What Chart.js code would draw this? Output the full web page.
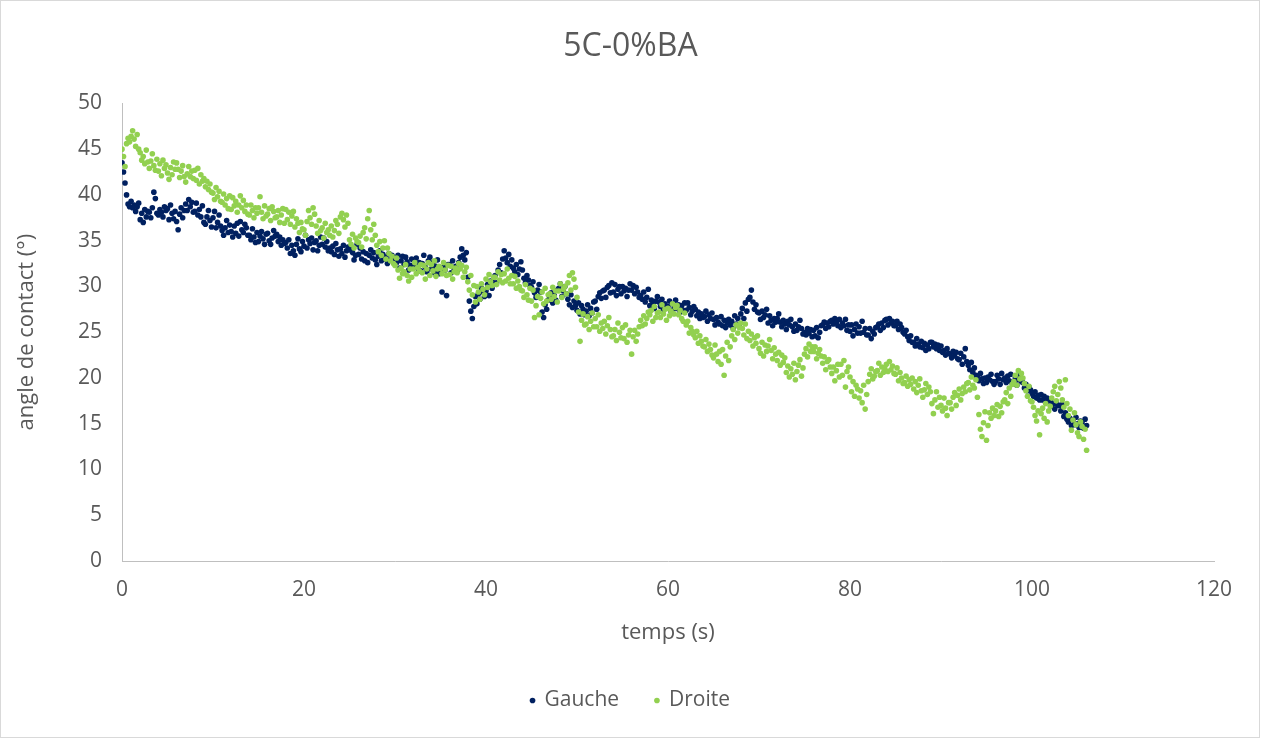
<!DOCTYPE html>
<html>
<head>
<meta charset="utf-8">
<script src="https://cdn.jsdelivr.net/npm/chart.js@4/dist/chart.umd.min.js"></script>
<style>
  html, body { margin: 0; padding: 0; background: #ffffff; }
  #wrap { width: 1261px; height: 738px; }
</style>
</head>
<body>
<div id="wrap"><canvas id="angleChart" width="1261" height="738"></canvas></div>
<script>
// time between two measurements (s): 6 frames per second
const sampleStep = 1 / 6;

const seriesNames = ['Gauche', 'Droite'];

// contact angle, left side (deg), one row = 2 seconds
const gauche = [
  43.5, 42.5, 41.3, 40.0, 39.0, 38.7,  39.3, 38.6, 38.9, 38.2, 38.7, 39.1,
  37.3, 38.0, 37.0, 38.4, 37.6, 38.2,  38.1, 37.5, 38.6, 40.3, 39.6, 38.0,
  37.8, 38.4, 38.1, 37.6, 38.7, 38.3,  38.5, 37.3, 38.9, 38.0, 37.4, 38.2,
  37.1, 36.2, 37.9, 38.6, 37.5, 38.3,  39.0, 38.3, 39.5, 38.7, 39.2, 38.1,
  38.2, 39.1, 37.8, 38.4, 37.6, 38.8,  37.0, 36.8, 37.6, 38.3, 37.2, 36.5,
  37.5, 38.2, 36.4, 37.0, 37.8, 36.6,  36.1, 35.6, 36.4, 37.2, 35.9, 36.7,
  36.0, 35.4, 36.6, 35.8, 36.9, 35.5,  37.1, 36.2, 35.9, 36.8, 36.4, 35.6,
  35.6, 35.1, 36.3, 35.4, 34.8, 35.9,  34.9, 35.5, 36.0, 35.2, 34.6, 35.7,
  35.8, 35.0, 34.6, 35.3, 36.1, 35.5,  35.7, 34.9, 35.4, 34.5, 35.1, 34.7,
  34.8, 34.2, 35.1, 33.6, 34.5, 33.9,  33.4, 34.6, 35.2, 34.1, 33.8, 34.9,
  34.4, 35.6, 34.2, 35.1, 34.7, 35.3,  34.0, 34.8, 35.0, 33.9, 34.5, 35.4,
  34.6, 35.3, 34.3, 34.9, 33.9, 34.2,  33.8, 34.4, 33.5, 34.7, 34.0, 33.3,
  34.1, 33.6, 34.5, 33.2, 33.9, 34.3,  34.0, 34.3, 33.7, 32.9, 33.4, 34.6,
  33.5, 34.2, 33.0, 33.8, 32.8, 33.6,  32.6, 33.4, 34.0, 33.1, 33.7, 32.9,
  32.4, 33.3, 33.9, 32.8, 33.5, 33.0,  33.2, 32.5, 33.6, 32.9, 33.4, 32.7,
  33.1, 32.6, 33.4, 32.0, 32.8, 33.3,  32.4, 33.2, 32.7, 31.8, 32.3, 33.0,
  32.9, 32.3, 33.1, 32.0, 32.6, 31.7,  32.5, 33.4, 32.1, 31.6, 32.8, 33.2,
  31.9, 32.6, 31.5, 32.2, 32.9, 31.4,  31.6, 29.4, 32.1, 31.8, 29.0, 32.4,
  32.4, 31.5, 32.8, 31.9, 32.2, 31.7,  32.6, 33.2, 34.1, 33.4, 32.9, 33.7,
  31.0, 28.4, 27.3, 26.5, 27.8, 28.9,  28.1, 29.2, 28.6, 29.8, 29.4, 28.9,
  29.5, 30.2, 29.0, 30.6, 29.8, 30.4,  31.2, 30.4, 31.8, 32.4, 31.5, 33.0,
  33.9, 33.1, 32.6, 33.5, 32.2, 32.9,  32.0, 31.6, 32.4, 31.3, 31.9, 32.7,
  31.8, 30.9, 30.4, 31.2, 30.7, 30.1,  29.9, 30.5, 29.3, 28.8, 29.6, 30.2,
  29.4, 27.2, 26.6, 28.0, 27.5, 28.5,  28.7, 29.3, 28.2, 29.0, 28.5, 29.6,
  29.8, 30.3, 28.9, 29.5, 30.0, 29.2,  28.6, 28.0, 29.1, 27.7, 28.4, 27.9,
  27.4, 28.2, 27.0, 27.9, 27.5, 26.9,  27.3, 28.0, 26.8, 27.6, 27.1, 28.3,
  28.4, 27.5, 28.9, 29.3, 28.7, 29.5,  29.6, 28.8, 29.9, 30.1, 29.3, 30.4,
  29.4, 30.2, 29.0, 29.7, 30.0, 29.2,  30.0, 29.5, 29.8, 28.9, 29.6, 30.3,
  29.6, 30.1, 29.2, 29.9, 29.4, 28.8,  29.0, 28.6, 29.4, 28.3, 28.8, 29.7,
  27.9, 28.5, 28.1, 27.6, 28.4, 28.9,  28.3, 27.8, 28.6, 27.5, 28.1, 27.7,
  27.8, 28.4, 27.3, 28.1, 27.6, 28.5,  27.6, 28.0, 27.2, 27.9, 27.4, 28.2,
  27.4, 28.2, 27.7, 26.9, 27.3, 27.8,  27.5, 26.8, 27.2, 26.5, 27.0, 26.6,
  26.7, 27.3, 26.2, 26.9, 26.5, 27.1,  26.4, 25.8, 26.6, 26.1, 25.9, 26.7,
  25.7, 26.3, 25.5, 26.0, 26.4, 25.8,  26.2, 25.4, 26.8, 25.9, 26.5, 25.6,
  27.0, 27.6, 26.5, 28.2, 27.3, 28.6,  28.8, 29.6, 28.3, 27.5, 28.0, 27.2,
  27.1, 26.4, 27.3, 26.6, 26.9, 27.5,  26.0, 26.8, 26.3, 25.7, 26.5, 26.1,
  26.5, 27.0, 26.1, 25.6, 26.3, 25.9,  25.3, 26.2, 25.8, 26.4, 25.6, 25.1,
  25.9, 25.2, 25.6, 26.3, 25.4, 24.8,  25.0, 24.7, 25.4, 24.9, 25.3, 24.5,
  25.2, 24.6, 25.5, 24.4, 25.0, 25.7,  25.8, 26.1, 25.4, 26.0, 25.6, 26.2,
  26.3, 25.9, 26.5, 26.1, 25.7, 26.4,  25.5, 26.0, 25.7, 26.4, 25.2, 25.8,
  25.1, 25.8, 24.6, 25.3, 25.9, 24.9,  25.6, 24.9, 26.2, 25.0, 25.4, 24.7,
  24.7, 25.4, 24.3, 25.1, 24.8, 25.5,  25.6, 25.9, 25.2, 26.0, 25.5, 26.3,
  26.4, 25.8, 26.5, 26.0, 26.2, 25.7,  25.7, 26.2, 25.3, 25.9, 25.5, 25.0,
  24.8, 25.2, 24.5, 24.1, 24.6, 23.9,  23.9, 23.5, 24.3, 23.7, 23.4, 24.0,
  23.3, 23.8, 23.0, 23.6, 23.2, 23.9,  23.9, 23.4, 23.7, 23.2, 23.6, 23.0,
  23.5, 22.8, 23.0, 22.5, 23.2, 22.7,  22.6, 22.2, 22.9, 22.4, 22.8, 22.1,
  22.0, 22.7, 21.5, 22.3, 23.2, 21.8,  21.4, 20.9, 21.7, 20.6, 21.1, 20.3,
  20.2, 19.7, 20.5, 19.9, 19.4, 20.0,  19.5, 20.1, 19.8, 20.4, 19.6, 19.3,
  19.6, 20.3, 19.9, 19.3, 20.5, 19.8,  20.0, 19.5, 20.2, 19.7, 20.4, 19.4,
  19.4, 20.0, 19.2, 19.8, 20.3, 19.6,  19.5, 18.9, 19.3, 18.6, 19.0, 18.7,
  18.3, 18.0, 18.5, 17.8, 18.1, 17.6,  18.2, 17.6, 18.0, 17.3, 17.8, 17.5,
  17.5, 16.9, 17.2, 16.6, 17.4, 17.0,  17.0, 16.4, 17.1, 15.8, 16.2, 15.5,
  15.2, 15.6, 14.8, 15.4, 14.9, 15.7,  15.0, 14.6, 15.3, 15.1, 14.5, 15.5,
  14.8
];

// contact angle, right side (deg), one row = 2 seconds
const droite = [
  45.0, 44.2, 43.1, 45.6, 46.2, 45.8,  46.4, 47.0, 46.1, 45.3, 46.6, 45.0,
  44.6, 43.8, 44.2, 43.4, 44.9, 43.6,  42.9, 43.7, 44.5, 43.2, 42.7, 43.9,
  42.6, 43.4, 42.1, 43.8, 42.9, 43.3,  42.4, 41.7, 43.0, 42.2, 43.6, 42.8,
  43.5, 42.8, 41.9, 42.6, 43.2, 42.0,  41.4, 42.3, 43.1, 42.0, 42.6, 41.8,
  42.7, 41.6, 42.9, 41.2, 42.2, 41.5,  41.8, 40.9, 41.5, 40.6, 41.2, 40.3,
  40.2, 39.5, 40.8, 39.8, 40.4, 39.3,  39.2, 40.1, 38.9, 39.6, 38.5, 39.9,
  38.4, 39.7, 38.8, 39.3, 38.1, 38.9,  39.9, 38.6, 39.4, 38.2, 38.9, 37.9,
  37.8, 38.9, 38.3, 37.5, 38.6, 38.0,  38.6, 39.8, 38.1, 37.4, 38.8, 37.7,
  37.9, 38.5, 37.2, 38.7, 38.2, 37.5,  37.6, 38.3, 37.0, 37.8, 38.5, 36.9,
  38.4, 37.3, 38.1, 36.8, 37.7, 38.2,  36.5, 37.4, 36.9, 35.9, 37.0, 36.3,
  36.2, 35.6, 37.1, 38.3, 37.5, 36.8,  38.6, 37.9, 36.6, 35.8, 37.2, 36.1,
  36.4, 35.3, 36.9, 35.9, 36.2, 35.6,  36.6, 35.4, 36.1, 37.2, 36.8, 35.8,
  37.6, 38.0, 37.3, 36.5, 37.8, 36.9,  35.1, 34.6, 35.7, 34.2, 35.3, 34.9,
  34.8, 35.5, 34.3, 35.9, 36.4, 35.2,  37.4, 38.3, 36.2, 35.1, 36.8, 35.6,
  34.5, 33.8, 34.9, 33.4, 34.2, 35.0,  33.0, 34.2, 33.6, 32.8, 33.3, 32.5,
  32.3, 33.1, 31.8, 30.9, 32.0, 31.4,  31.6, 32.4, 31.2, 30.6, 31.9, 31.0,
  31.9, 32.6, 31.4, 32.1, 31.7, 32.4,  31.5, 32.3, 30.8, 31.9, 32.6, 31.2,
  32.4, 31.7, 32.8, 31.1, 31.9, 32.2,  32.0, 31.4, 32.6, 31.8, 31.2, 32.3,
  31.3, 32.2, 30.8, 31.6, 32.0, 31.5,  32.5, 31.9, 32.3, 31.0, 31.6, 32.1,
  30.5, 29.6, 31.2, 29.1, 30.1, 28.3,  30.0, 29.4, 28.6, 30.3, 29.7, 29.1,
  30.8, 29.9, 31.3, 30.5, 30.1, 31.0,  31.0, 30.2, 31.6, 30.7, 31.3, 30.4,
  31.4, 30.6, 31.9, 30.9, 30.3, 31.2,  30.3, 31.1, 29.8, 30.6, 30.0, 29.6,
  29.5, 28.8, 30.2, 29.1, 28.5, 29.8,  28.4, 29.6, 26.6, 27.9, 28.9, 26.9,
  28.7, 29.4, 28.1, 29.8, 28.4, 29.1,  29.2, 28.6, 29.9, 28.9, 29.5, 28.3,
  29.5, 30.3, 28.8, 29.7, 30.0, 29.2,  30.4, 31.2, 29.6, 31.5, 30.8, 29.9,
  28.8, 27.2, 24.0, 26.3, 27.0, 25.8,  25.9, 26.7, 25.3, 26.2, 27.1, 25.6,
  26.5, 25.6, 26.9, 25.1, 26.0, 25.4,  26.2, 24.8, 25.7, 26.6, 25.3, 24.5,
  24.6, 25.3, 24.1, 26.0, 25.0, 24.4,  25.5, 24.3, 25.8, 23.9, 24.7, 25.2,
  22.6, 24.5, 25.2, 24.0, 24.8, 25.6,  26.3, 25.7, 26.8, 25.9, 26.5, 27.2,
  26.9, 27.4, 26.2, 27.8, 26.6, 27.1,  27.2, 26.6, 28.0, 27.0, 27.5, 26.3,
  27.6, 26.8, 27.3, 28.1, 27.0, 27.7,  27.9, 26.9, 27.4, 26.5, 26.2, 27.1,
  25.8, 26.2, 24.9, 25.5, 25.1, 24.7,  24.4, 25.1, 23.8, 24.6, 24.0, 23.5,
  23.4, 24.2, 22.9, 23.7, 23.1, 22.5,  22.2, 23.6, 22.6, 21.8, 22.9, 21.5,
  23.1, 20.3, 22.4, 23.9, 21.9, 23.4,  24.6, 25.3, 24.2, 25.8, 24.9, 25.5,
  26.0, 25.4, 24.7, 25.9, 24.3, 25.1,  24.1, 24.8, 23.5, 24.4, 23.8, 24.6,
  23.2, 22.7, 23.9, 22.4, 23.6, 22.9,  23.5, 24.2, 23.0, 22.1, 23.3, 22.6,
  21.9, 22.8, 21.4, 22.5, 21.7, 22.2,  20.6, 21.3, 20.1, 21.0, 20.4, 21.6,
  19.8, 20.7, 21.4, 22.0, 20.2, 21.1,  22.6, 23.2, 22.3, 23.7, 22.9, 23.4,
  22.9, 23.4, 22.1, 22.7, 23.1, 22.4,  21.6, 22.3, 20.9, 21.8, 22.0, 21.2,
  20.5, 21.2, 19.7, 20.8, 21.5, 20.1,  21.5, 20.3, 21.9, 19.0, 20.7, 21.2,
  20.1, 18.5, 19.6, 18.0, 19.2, 18.8,  17.8, 18.6, 17.3, 19.2, 16.6, 18.2,
  19.6, 20.4, 21.0, 19.9, 20.2, 20.7,  20.8, 21.6, 20.3, 21.2, 20.6, 21.0,
  21.5, 20.7, 21.8, 20.9, 21.3, 20.5,  20.4, 21.1, 19.7, 20.6, 20.0, 19.4,
  19.5, 20.2, 19.1, 19.8, 19.3, 20.0,  18.8, 19.6, 18.4, 19.2, 19.9, 18.6,
  17.9, 18.7, 19.4, 18.2, 19.0, 18.5,  17.2, 16.1, 17.6, 18.5, 16.8, 17.9,
  17.0, 16.4, 17.8, 16.7, 15.9, 17.3,  17.3, 16.6, 17.9, 18.4, 17.0, 18.1,
  18.8, 17.6, 18.3, 19.0, 18.5, 19.4,  19.5, 18.7, 20.1, 19.2, 18.9, 19.8,
  17.9, 16.0, 14.4, 13.6, 15.1, 16.3,  13.2, 14.8, 16.2, 15.6, 16.7, 15.9,
  16.4, 17.1, 15.8, 16.9, 16.2, 17.4,  17.6, 18.4, 17.2, 18.9, 18.0, 19.3,
  19.6, 20.3, 19.2, 20.8, 19.9, 20.5,  20.0, 19.4, 18.6, 18.0, 19.1, 17.5,
  17.4, 16.8, 15.9, 15.3, 16.4, 13.8,  16.1, 16.7, 15.6, 17.2, 15.2, 16.4,
  16.9, 17.8, 18.5, 19.1, 17.5, 18.2,  19.6, 18.9, 17.6, 16.8, 19.8, 17.2,
  15.9, 16.6, 14.3, 15.4, 16.2, 14.9,  14.0, 13.6, 15.2, 14.7, 13.3, 14.4,
  12.1
];

const xTicks = [0, 20, 40, 60, 80, 100, 120];
const yTicks = [0, 5, 10, 15, 20, 25, 30, 35, 40, 45, 50];

const textColor = '#595959';
const fontFamily = "'Open Sans', 'Noto Sans', sans-serif";

// outer frame like the office chart
const framePlugin = {
    id: 'frame',
    beforeDraw(chart) {
        const ctx = chart.ctx;
        ctx.save();
        ctx.fillStyle = '#ffffff';
        ctx.fillRect(0, 0, chart.width, chart.height);
        ctx.strokeStyle = '#d9d9d9';
        ctx.lineWidth = 1;
        ctx.strokeRect(0.5, 0.5, chart.width - 2, chart.height - 1);
        ctx.restore();
    }
};

const toPoints = values => values.map((v, i) => ({ x: i * sampleStep, y: v }));

const ctx = document.getElementById('angleChart').getContext('2d');
new Chart(ctx, {
    type: 'scatter',
    data: {
        datasets: [
            {
                label: seriesNames[0],
                data: toPoints(gauche),
                backgroundColor: '#002060',
                borderColor: '#002060',
                borderWidth: 0,
                pointRadius: 2.8,
                pointHoverRadius: 2.8,
                order: 1
            },
            {
                label: seriesNames[1],
                data: toPoints(droite),
                backgroundColor: '#92d050',
                borderColor: '#92d050',
                borderWidth: 0,
                pointRadius: 2.8,
                pointHoverRadius: 2.8,
                order: 0
            }
        ]
    },
    options: {
        responsive: false,
        animation: false,
        layout: { padding: { left: 0, right: 0, top: 0, bottom: 17 } },
        plugins: {
            title: {
                display: true,
                text: '5C-0%BA',
                color: textColor,
                font: { family: fontFamily, size: 32, weight: 'normal' },
                padding: { top: 28, bottom: 37 }
            },
            legend: {
                display: true,
                position: 'bottom',
                labels: {
                    color: textColor,
                    font: { family: fontFamily, size: 21 },
                    usePointStyle: true,
                    pointStyle: 'circle',
                    boxWidth: 3,
                    boxHeight: 4,
                    padding: 20,
                    generateLabels(chart) {
                        // keep dataset order (Gauche first) even though Droite is drawn on top
                        const items = Chart.defaults.plugins.legend.labels.generateLabels(chart)
                            .sort((a, b) => a.datasetIndex - b.datasetIndex);
                        return items.map((item, i) => {
                            if (i < items.length - 1) item.text = item.text + '   ';
                            return item;
                        });
                    }
                }
            },
            tooltip: { enabled: false }
        },
        scales: {
            x: {
                type: 'linear',
                min: 0,
                max: 120,
                afterBuildTicks: scale => { scale.ticks = xTicks.map(v => ({ value: v })); },
                afterFit: scale => { scale.height = 109; },
                grid: { display: false, drawTicks: false },
                border: { display: true, color: '#bfbfbf', width: 1 },
                ticks: {
                    color: textColor,
                    font: { family: fontFamily, size: 21 },
                    padding: 16,
                    maxRotation: 0
                },
                title: {
                    display: true,
                    text: 'temps (s)',
                    color: textColor,
                    font: { family: fontFamily, size: 22 },
                    padding: { top: 0, bottom: 24 }
                }
            },
            y: {
                type: 'linear',
                position: 'left',
                min: 0,
                max: 50,
                afterBuildTicks: scale => { scale.ticks = yTicks.map(v => ({ value: v })); },
                afterFit: scale => { scale.width = 122; },
                grid: { display: false, drawTicks: false },
                border: { display: true, color: '#bfbfbf', width: 1 },
                ticks: {
                    color: textColor,
                    font: { family: fontFamily, size: 21 },
                    padding: 20
                },
                title: {
                    display: true,
                    text: 'angle de contact (°)',
                    color: textColor,
                    font: { family: fontFamily, size: 22 },
                    padding: { top: 14, bottom: 0 }
                }
            },
            yRight: {
                type: 'linear',
                position: 'right',
                display: true,
                grid: { display: false, drawTicks: false },
                border: { display: false },
                ticks: { display: false },
                afterFit: scale => { scale.width = 47; }
            }
        }
    },
    plugins: [framePlugin]
});
</script>
</body>
</html>
